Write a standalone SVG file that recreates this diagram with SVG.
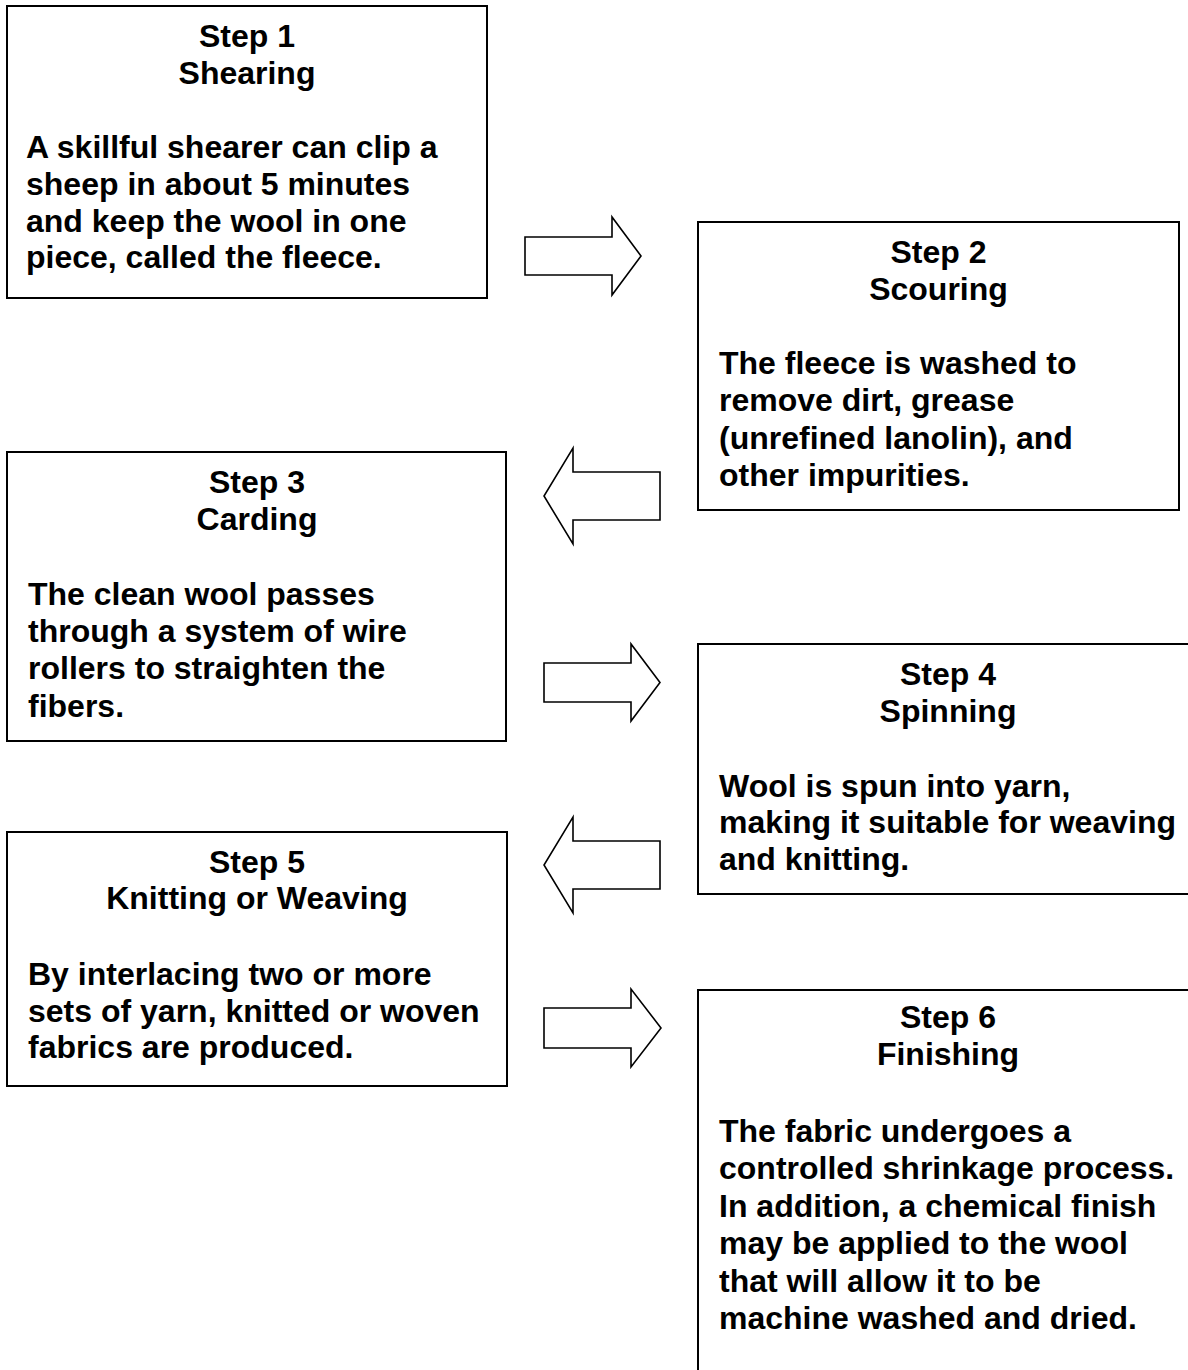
<svg xmlns="http://www.w3.org/2000/svg" width="1188" height="1370" viewBox="0 0 1188 1370">
<style>
.box{fill:#fff;stroke:#000;stroke-width:2}
.arr{fill:#fff;stroke:#000;stroke-width:1.6;stroke-linejoin:miter}
text{font-family:"Liberation Sans",Arial,sans-serif;font-weight:bold;font-size:32px;fill:#000}
.t{text-anchor:middle}
</style>
<rect width="1188" height="1370" fill="#fff"/>
<g id="connectors">
<polygon class="arr" points="525,237 612,237 612,217 641,256 612,295 612,275 525,275"/>
<polygon class="arr" points="660,472 573,472 573,448 544,496 573,544 573,520 660,520"/>
<polygon class="arr" points="544,663 631,663 631,644 660,682.5 631,721 631,702 544,702"/>
<polygon class="arr" points="660,841 573,841 573,817 544,865 573,913 573,889 660,889"/>
<polygon class="arr" points="544,1008 631,1008 631,989 661,1028 631,1067 631,1048 544,1048"/>
</g>
<g id="step1">
<rect class="box" x="7" y="6" width="480" height="292"/>
<text class="t" x="247" y="47">Step 1</text>
<text class="t" x="247" y="84">Shearing</text>
<text x="26" y="158">A skillful shearer can clip a</text>
<text x="26" y="195">sheep in about 5 minutes</text>
<text x="26" y="232">and keep the wool in one</text>
<text x="26" y="268">piece, called the fleece.</text>
</g>
<g id="step2">
<rect class="box" x="698" y="222" width="481" height="288"/>
<text class="t" x="938.5" y="263">Step 2</text>
<text class="t" x="938.5" y="300">Scouring</text>
<text x="719" y="374">The fleece is washed to</text>
<text x="719" y="411">remove dirt, grease</text>
<text x="719" y="449">(unrefined lanolin), and</text>
<text x="719" y="486">other impurities.</text>
</g>
<g id="step3">
<rect class="box" x="7" y="452" width="499" height="289"/>
<text class="t" x="257" y="493">Step 3</text>
<text class="t" x="257" y="530">Carding</text>
<text x="28" y="605">The clean wool passes</text>
<text x="28" y="642">through a system of wire</text>
<text x="28" y="679">rollers to straighten the</text>
<text x="28" y="717">fibers.</text>
</g>
<g id="step4">
<rect class="box" x="698" y="644" width="500" height="250"/>
<text class="t" x="948" y="685">Step 4</text>
<text class="t" x="948" y="722">Spinning</text>
<text x="719" y="797">Wool is spun into yarn,</text>
<text x="719" y="833">making it suitable for weaving</text>
<text x="719" y="870">and knitting.</text>
</g>
<g id="step5">
<rect class="box" x="7" y="832" width="500" height="254"/>
<text class="t" x="257" y="873">Step 5</text>
<text class="t" x="257" y="909">Knitting or Weaving</text>
<text x="28" y="985">By interlacing two or more</text>
<text x="28" y="1022">sets of yarn, knitted or woven</text>
<text x="28" y="1058">fabrics are produced.</text>
</g>
<g id="step6">
<rect class="box" x="698" y="990" width="500" height="400"/>
<text class="t" x="948" y="1028">Step 6</text>
<text class="t" x="948" y="1065">Finishing</text>
<text x="719" y="1142">The fabric undergoes a</text>
<text x="719" y="1179">controlled shrinkage process.</text>
<text x="719" y="1217">In addition, a chemical finish</text>
<text x="719" y="1254">may be applied to the wool</text>
<text x="719" y="1292">that will allow it to be</text>
<text x="719" y="1329">machine washed and dried.</text>
</g>
</svg>
